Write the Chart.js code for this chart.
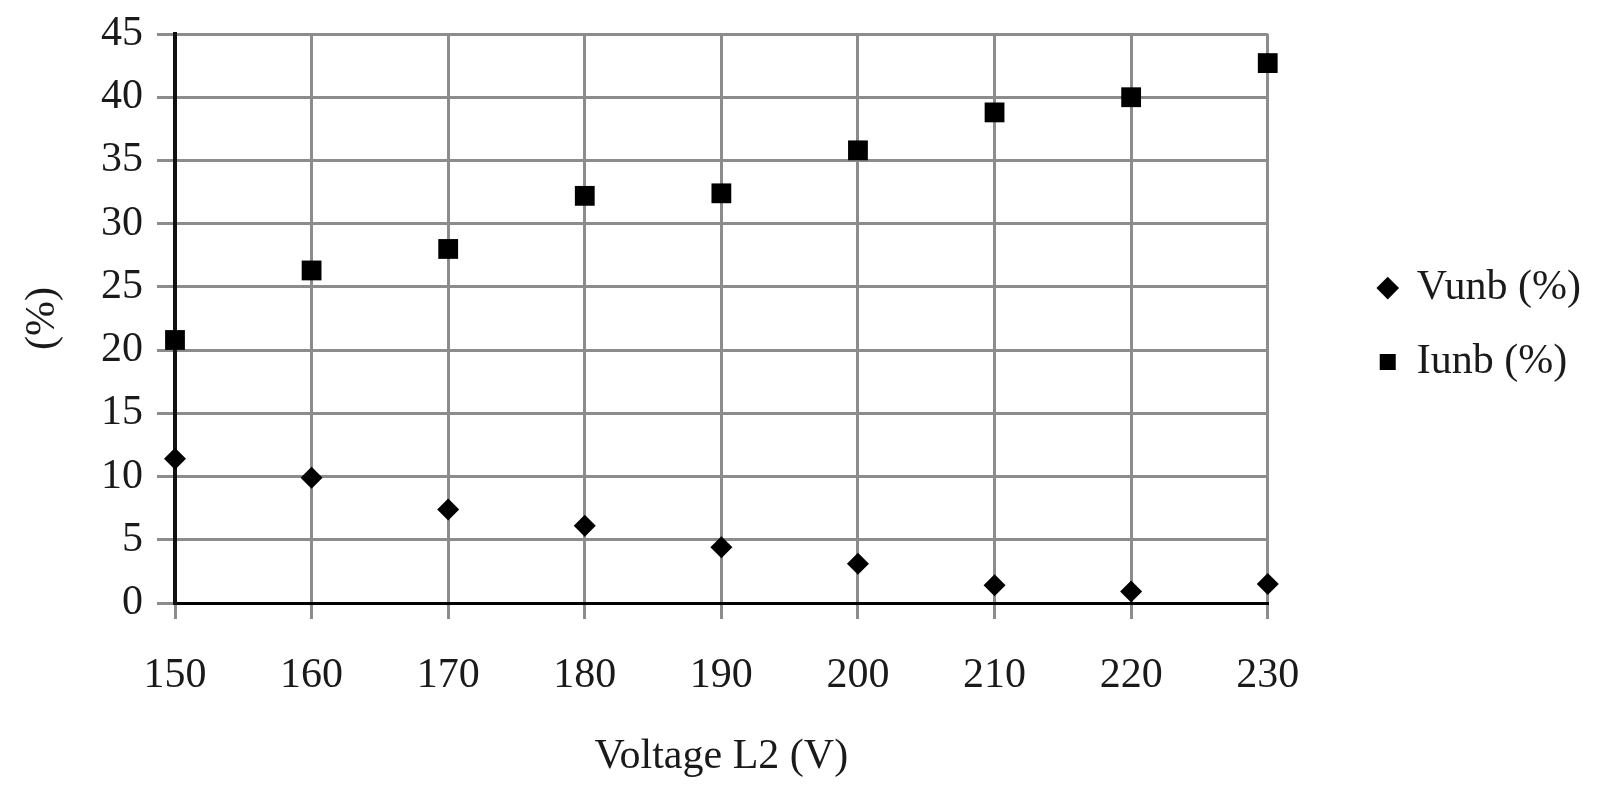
<!DOCTYPE html>
<html>
<head>
<meta charset="utf-8">
<script src="https://cdn.jsdelivr.net/npm/chart.js@4/dist/chart.umd.min.js"></script>
<style>
  html, body { margin: 0; padding: 0; background: #fff; }
  #wrap { width: 1599px; height: 811px; position: relative; }
</style>
</head>
<body>
<div id="wrap"><canvas id="unbChart"></canvas></div>
<script>
// voltage on L2 and the resulting unbalance factors
const voltageL2 = [150, 160, 170, 180, 190, 200, 210, 220, 230];
const vunb = [11.4, 9.9, 7.4, 6.1, 4.4, 3.1, 1.4, 0.9, 1.5];
const iunb = [20.8, 26.3, 28.0, 32.2, 32.4, 35.8, 38.8, 40.0, 42.7];

const seriesNames = ["Vunb (%)", "Iunb (%)"];
const xTitle = "Voltage L2 (V)";
const yTitle = "(%)";

const serif = "'Liberation Serif', 'Times New Roman', serif";
const gridGray = "#8c8c8c";

function toPoints(ys) {
  return voltageL2.map((v, i) => ({ x: v, y: ys[i] }));
}

const ctx = document.getElementById("unbChart").getContext("2d");
const chart = new Chart(ctx, {
  type: "scatter",
  data: {
    datasets: [
      {
        label: seriesNames[0],
        data: toPoints(vunb),
        pointStyle: "rectRot",
        pointRadius: 11,
        backgroundColor: "#000",
        borderColor: "#000",
        borderWidth: 0,
        clip: false,
      },
      {
        label: seriesNames[1],
        data: toPoints(iunb),
        pointStyle: "rect",
        pointRadius: 14,
        backgroundColor: "#000",
        borderColor: "#000",
        borderWidth: 0,
        clip: false,
      },
    ],
  },
  options: {
    responsive: true,
    maintainAspectRatio: false,
    animation: false,
    layout: { padding: { top: 34, bottom: 29, left: 0, right: 8 } },
    scales: {
      x: {
        type: "linear",
        min: 150,
        max: 230,
        ticks: { stepSize: 10, color: "#1a1a1a", font: { family: serif, size: 42 }, padding: 32 },
        grid: { color: gridGray, lineWidth: 3, tickLength: 16 },
        border: { color: "#000", width: 3 },
        title: {
          display: true,
          text: xTitle,
          color: "#1a1a1a",
          font: { family: serif, size: 42 },
          padding: { top: 0, bottom: 0 },
        },
        afterFit: (s) => { s.height = 179; },
      },
      y: {
        min: 0,
        max: 45,
        ticks: { stepSize: 5, color: "#1a1a1a", font: { family: serif, size: 42 }, padding: 14 },
        grid: { color: gridGray, lineWidth: 3, tickLength: 18 },
        border: { color: "#111", width: 4 },
        title: {
          display: true,
          text: yTitle,
          color: "#1a1a1a",
          font: { family: serif, size: 42 },
          padding: { top: 18, bottom: 0 },
        },
        afterFit: (s) => {
          s.width = 175;
          s.paddingTop = 0;
          s.paddingBottom = 0;
        },
      },
      // empty spacer between the plot and the legend
      gap: {
        position: "right",
        display: true,
        ticks: { display: false },
        grid: { display: false },
        border: { display: false },
        afterFit: (s) => { s.width = 80; s.paddingTop = 0; s.paddingBottom = 0; },
      },
    },
    plugins: {
      legend: {
        position: "right",
        fullSize: false,
        // blank title only nudges the entries down a little
        title: { display: true, text: " ", font: { size: 1 }, padding: 6 },
        labels: {
          usePointStyle: true,
          boxWidth: 16,
          boxHeight: 16,
          padding: 32,
          color: "#1a1a1a",
          font: { family: serif, size: 42 },
        },
      },
      tooltip: { enabled: false },
    },
  },
});
</script>
</body>
</html>
